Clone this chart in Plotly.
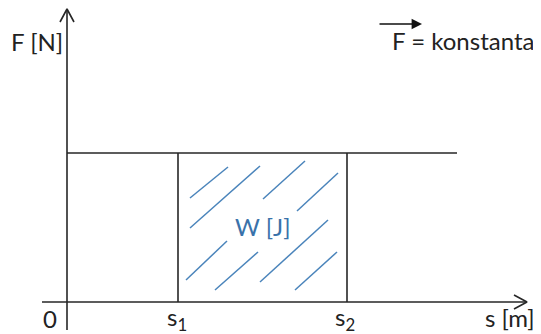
"""
Work diagram: constant force F over distance s1..s2, area = W
"""
import plotly.graph_objects as go

# diagram values (x in s units, y in F units)
S1 = 111
S2 = 280
F_LEVEL = 149
F_LINE_END = 390
X_AXIS = [-25, 460]
Y_AXIS = [-28, 293]

# hatch strokes inside the work area: x0, y0, x1, y1
hatch_x0 = [123, 123, 196, 230, 119, 148, 193, 228]
hatch_y0 = [104, 74, 103, 91, 22, 12, 20, 12]
hatch_x1 = [161, 193, 238, 271, 160, 191, 261, 270]
hatch_y1 = [135, 136, 141, 129, 61, 50, 82, 50]

LINE = "#262626"
BLUE = "#4a84bb"
FONT = "Lato"

# the page body has an 8px margin, so the figure is made smaller by that
PAGE_PAD = 8


def line(fig, xs, ys, color=LINE, width=1.6):
    fig.add_trace(go.Scatter(x=xs, y=ys, mode="lines",
                             line=dict(color=color, width=width),
                             hoverinfo="skip", showlegend=False))


def chevron(fig, tip_x, tip_y, dx, dy, length=13, spread=7):
    # open arrow head pointing along (dx, dy)
    bx, by = tip_x - dx * length, tip_y - dy * length
    px, py = -dy * spread, dx * spread
    line(fig, [bx + px, tip_x, bx - px], [by + py, tip_y, by - py])


fig = go.Figure()

# axes
line(fig, X_AXIS, [0, 0])
line(fig, [0, 0], Y_AXIS)
chevron(fig, X_AXIS[1], 0, 1, 0)
chevron(fig, 0, Y_AXIS[1], 0, 1)

# constant force line and borders of the area
line(fig, [0, F_LINE_END], [F_LEVEL, F_LEVEL])
line(fig, [S1, S1], [0, F_LEVEL])
line(fig, [S2, S2], [0, F_LEVEL])

# hatching
for x0, y0, x1, y1 in zip(hatch_x0, hatch_y0, hatch_x1, hatch_y1):
    line(fig, [x0, x1], [y0, y1], color=BLUE, width=1.5)

font = dict(family=FONT, size=24, color="#222222")
labels = [
    (-30, 261, "F [N]", "center"),
    (323, 262, "F = konstanta", "left"),
    (-17, -16, "0", "center"),
    (110, -16, "s<sub>1</sub>", "center"),
    (278, -16, "s<sub>2</sub>", "center"),
    (443, -15, "s [m]", "center"),
]
for x, y, text, align in labels:
    fig.add_annotation(x=x, y=y, text=text, showarrow=False, font=font,
                       xanchor=align, yanchor="middle")

fig.add_annotation(x=196, y=76, text="W [J]", showarrow=False,
                   font=dict(family=FONT, size=24, color="#3a72aa"))

# vector arrow above F
fig.add_annotation(x=355, y=278, ax=311, ay=278, axref="x", ayref="y",
                   text="", showarrow=True, arrowhead=2, arrowsize=1.3,
                   arrowwidth=1.6, arrowcolor="#111111")

fig.update_layout(
    width=541 - PAGE_PAD, height=334 - PAGE_PAD,
    margin=dict(l=0, r=0, t=0, b=0),
    plot_bgcolor="white", paper_bgcolor="white",
    xaxis=dict(range=[-67 + PAGE_PAD, 474], visible=False, fixedrange=True),
    yaxis=dict(range=[-32, 302 - PAGE_PAD], visible=False, fixedrange=True),
)

fig.write_html("out.html")
